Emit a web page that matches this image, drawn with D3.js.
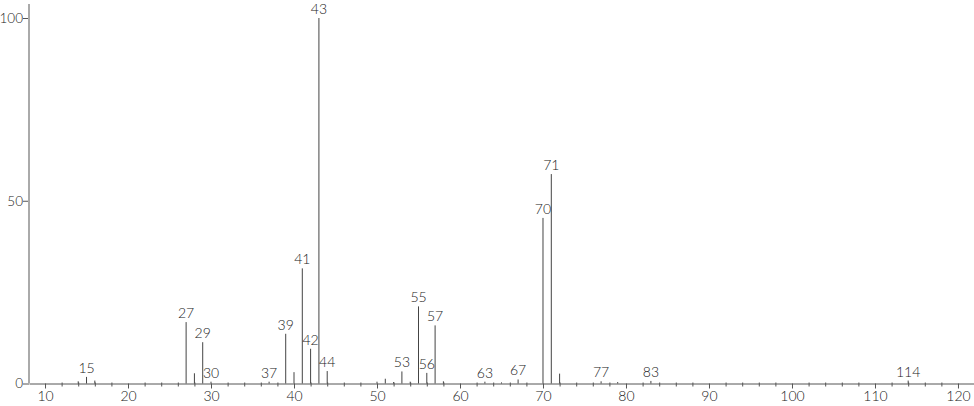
<!DOCTYPE html>
<html>
<head>
<meta charset="utf-8">
<script src="https://cdn.jsdelivr.net/npm/d3@7"></script>
<style>
  body { margin: 0; background: #fff; }
  svg text { font-family: Lato, "Open Sans", sans-serif; font-weight: 300; font-size: 14px; fill: #222; }
</style>
</head>
<body>
<svg id="spectrum" width="974" height="406"></svg>
<script>
// peaks of the spectrum (m/z and relative intensity)
var masses = [14, 15, 16, 27, 28, 29, 30, 37, 39, 40, 41, 42, 43, 44,
              50, 51, 52, 53, 54, 55, 56, 57, 58, 63, 65, 67, 70, 71, 72,
              77, 79, 83, 114];
var intensities = [0.6, 1.8, 0.8, 16.8, 2.8, 11.3, 0.5, 0.5, 13.6, 3.1, 31.5, 9.5, 100, 3.4,
                   0.5, 1.3, 0.4, 3.3, 0.5, 21.1, 2.9, 15.9, 0.6, 0.5, 0.3, 1.1, 45.3, 57.3, 2.7,
                   0.6, 0.4, 0.7, 0.8];
// peaks that get a label
var labelled = [15, 27, 29, 30, 37, 39, 41, 42, 43, 44, 53, 55, 56, 57, 63, 67, 70, 71, 77, 83, 114];

var xMajor = [10, 20, 30, 40, 50, 60, 70, 80, 90, 100, 110, 120];
var yMajor = [0, 50, 100];

var svg = d3.select("#spectrum");

var x = d3.scaleLinear().domain([8.07, 121.93]).range([29, 974]);
var y = d3.scaleLinear().domain([0, 100]).range([383.5, 18]);

var peaks = masses.map(function(m, i) {
	return { mass: m, value: intensities[i] };
});

// minor ticks every 2 units
var xMinor = d3.range(12, 122, 2).filter(function(v) { return v % 10 != 0; });

svg.append("g")
	.attr("transform", "translate(0," + y(0) + ")")
	.call(d3.axisBottom(x).tickValues(xMinor).tickSize(3).tickFormat(""))
	.call(function(g) { g.select(".domain").remove(); })
	.selectAll("line").attr("stroke", "#555").attr("y1", -1);

var xAxis = svg.append("g")
	.attr("transform", "translate(0," + y(0) + ")")
	.call(d3.axisBottom(x).tickValues(xMajor).tickSize(5).tickSizeOuter(0).tickPadding(3));
xAxis.select(".domain").attr("stroke", "#555");
xAxis.selectAll("line").attr("stroke", "#555");
xAxis.selectAll("text").attr("fill", "#222").style("font-size", "14px");

// peaks
svg.append("g").selectAll("line")
	.data(peaks)
	.enter().append("line")
	.attr("x1", function(d) { return x(d.mass); })
	.attr("x2", function(d) { return x(d.mass); })
	.attr("y1", y(0))
	.attr("y2", function(d) { return y(d.value); })
	.attr("stroke", "#444")
	.attr("stroke-width", 1);

svg.append("g").selectAll("text")
	.data(peaks.filter(function(d) { return labelled.indexOf(d.mass) >= 0; }))
	.enter().append("text")
	.attr("x", function(d) { return x(d.mass); })
	.attr("y", function(d) { return y(d.value) - 4; })
	.attr("text-anchor", "middle")
	.text(function(d) { return d.mass; });

// y axis
var yAxis = svg.append("g")
	.attr("transform", "translate(29,0)")
	.call(d3.axisLeft(y).tickValues(yMajor).tickSize(6).tickSizeOuter(0).tickPadding(0));
yAxis.select(".domain").remove();
yAxis.selectAll("line").attr("stroke", "#555");
yAxis.selectAll("text").attr("fill", "#222").style("font-size", "13.5px");

svg.append("line")
	.attr("x1", 29).attr("x2", 29)
	.attr("y1", 4).attr("y2", y(0))
	.attr("stroke", "#aaa")
	.attr("stroke-width", 2);
</script>
</body>
</html>
